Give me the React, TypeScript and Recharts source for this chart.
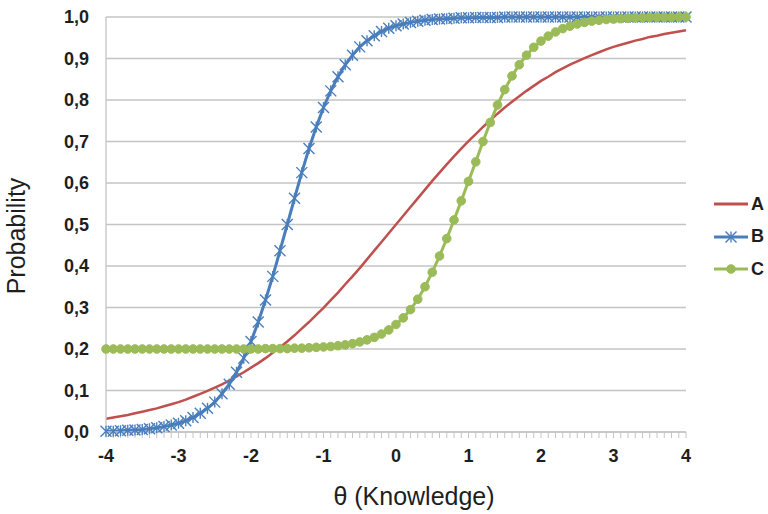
import React from 'react'
import { LineChart, Line, XAxis, YAxis, CartesianGrid, Legend, Label } from 'recharts'

// theta from -4 to 4 in steps of 0.1
const thetaValues = [
  -4, -3.9, -3.8, -3.7, -3.6, -3.5, -3.4, -3.3, -3.2, -3.1,
  -3, -2.9, -2.8, -2.7, -2.6, -2.5, -2.4, -2.3, -2.2, -2.1,
  -2, -1.9, -1.8, -1.7, -1.6, -1.5, -1.4, -1.3, -1.2, -1.1,
  -1, -0.9, -0.8, -0.7, -0.6, -0.5, -0.4, -0.3, -0.2, -0.1,
  0, 0.1, 0.2, 0.3, 0.4, 0.5, 0.6, 0.7, 0.8, 0.9,
  1, 1.1, 1.2, 1.3, 1.4, 1.5, 1.6, 1.7, 1.8, 1.9,
  2, 2.1, 2.2, 2.3, 2.4, 2.5, 2.6, 2.7, 2.8, 2.9,
  3, 3.1, 3.2, 3.3, 3.4, 3.5, 3.6, 3.7, 3.8, 3.9,
  4,
]

const itemA = [
  0.032, 0.035, 0.038, 0.041, 0.045, 0.049, 0.053, 0.057, 0.062, 0.067,
  0.072, 0.078, 0.085, 0.092, 0.099, 0.107, 0.115, 0.124, 0.134, 0.144,
  0.155, 0.166, 0.178, 0.191, 0.204, 0.218, 0.233, 0.249, 0.265, 0.282,
  0.299, 0.318, 0.336, 0.356, 0.375, 0.395, 0.416, 0.437, 0.458, 0.479,
  0.500, 0.521, 0.542, 0.563, 0.584, 0.605, 0.625, 0.645, 0.664, 0.683,
  0.701, 0.718, 0.735, 0.751, 0.767, 0.782, 0.796, 0.809, 0.822, 0.834,
  0.846, 0.856, 0.867, 0.876, 0.885, 0.893, 0.901, 0.908, 0.915, 0.922,
  0.928, 0.933, 0.938, 0.943, 0.947, 0.952, 0.955, 0.959, 0.962, 0.965,
  0.968,
]

const itemB = [
  0.002, 0.002, 0.003, 0.004, 0.005, 0.006, 0.008, 0.010, 0.013, 0.017,
  0.021, 0.027, 0.035, 0.045, 0.057, 0.072, 0.092, 0.115, 0.144, 0.178,
  0.218, 0.265, 0.318, 0.375, 0.437, 0.500, 0.563, 0.625, 0.683, 0.735,
  0.782, 0.822, 0.856, 0.885, 0.908, 0.928, 0.943, 0.955, 0.965, 0.973,
  0.979, 0.983, 0.987, 0.990, 0.992, 0.994, 0.995, 0.996, 0.997, 0.998,
  0.998, 0.999, 0.999, 0.999, 0.999, 1.000, 1.000, 1.000, 1.000, 1.000,
  1.000, 1.000, 1.000, 1.000, 1.000, 1.000, 1.000, 1.000, 1.000, 1.000,
  1.000, 1.000, 1.000, 1.000, 1.000, 1.000, 1.000, 1.000, 1.000, 1.000,
  1.000,
]

const itemC = [
  0.200, 0.200, 0.200, 0.200, 0.200, 0.200, 0.200, 0.200, 0.200, 0.200,
  0.200, 0.200, 0.200, 0.200, 0.200, 0.200, 0.200, 0.200, 0.200, 0.200,
  0.200, 0.200, 0.201, 0.201, 0.201, 0.201, 0.202, 0.202, 0.203, 0.204,
  0.205, 0.206, 0.208, 0.210, 0.213, 0.217, 0.222, 0.228, 0.236, 0.246,
  0.259, 0.275, 0.295, 0.320, 0.350, 0.385, 0.424, 0.466, 0.511, 0.557,
  0.604, 0.651, 0.700, 0.746, 0.788, 0.825, 0.858, 0.885, 0.908, 0.927,
  0.942, 0.954, 0.964, 0.972, 0.978, 0.983, 0.987, 0.990, 0.992, 0.994,
  0.995, 0.996, 0.997, 0.998, 0.998, 0.999, 0.999, 0.999, 0.999, 1.000,
  1.000,
]

const yTicks = [0, 0.1, 0.2, 0.3, 0.4, 0.5, 0.6, 0.7, 0.8, 0.9, 1]

const FONT = '"Liberation Sans", Arial, sans-serif'
const RED = '#c0504d'
const BLUE = '#4a7ebb'
const GREEN = '#9bbb59'
const GRID = '#c4c4c4'

const data = thetaValues.map((t, i) => ({ theta: t, A: itemA[i], B: itemB[i], C: itemC[i] }))

// Excel style "star" marker: x plus a vertical bar
function StarDot(props: any) {
  const { cx, cy } = props
  if (cx == null || cy == null) return null
  const s = 5.5
  return (
    <g stroke={BLUE} strokeWidth={1.4} fill="none">
      <line x1={cx - s} y1={cy - s} x2={cx + s} y2={cy + s} />
      <line x1={cx - s} y1={cy + s} x2={cx + s} y2={cy - s} />
      <line x1={cx} y1={cy - s} x2={cx} y2={cy + s} />
    </g>
  )
}

function CircleDot(props: any) {
  const { cx, cy } = props
  if (cx == null || cy == null) return null
  return <circle cx={cx} cy={cy} r={4.3} fill={GREEN} stroke={GREEN} strokeWidth={1} />
}

function ThetaTick(props: any) {
  const { x, y, payload } = props
  const v = payload.value
  if (!Number.isInteger(v)) return null
  return (
    <text x={x} y={y} dy={22} textAnchor="middle" fontFamily={FONT} fontSize={18} fontWeight="bold" fill="#1e1e1e">
      {String(v)}
    </text>
  )
}

function LegendBox(props: any) {
  const items = props.payload || []
  return (
    <div style={{ fontFamily: FONT }}>
      {items.map((it: any) => {
        const key = it.value
        return (
          <div key={key} style={{ height: 32.5, display: 'flex', alignItems: 'center' }}>
            <svg width={36} height={14}>
              <line x1={1} y1={7} x2={35} y2={7} stroke={it.color} strokeWidth={3} />
              {key === 'B' && <StarDot cx={18} cy={7} />}
              {key === 'C' && <CircleDot cx={18} cy={7} />}
            </svg>
            <span style={{ fontSize: 18, fontWeight: 'bold', color: '#1e1e1e', marginLeft: 2 }}>{key}</span>
          </div>
        )
      })}
    </div>
  )
}

export default function App() {
  return (
    <div style={{ position: 'absolute', left: 0, top: 0, width: 768, height: 514, background: '#fff' }}>
      <LineChart width={768} height={514} data={data} margin={{ top: 17, right: 82, bottom: 0, left: 0 }}>
        <CartesianGrid horizontal vertical={false} stroke={GRID} strokeWidth={1.3} />
        <XAxis
          dataKey="theta"
          type="category"
          interval={0}
          height={82}
          tick={<ThetaTick />}
          tickSize={6}
          tickMargin={2}
          tickLine={{ stroke: GRID }}
          axisLine={{ stroke: GRID, strokeWidth: 1.3 }}
        >
          <Label
            content={() => (
              <text x={414} y={505} textAnchor="middle" fontFamily={FONT} fontSize={25} fill="#1e1e1e">
                θ (Knowledge)
              </text>
            )}
          />
        </XAxis>
        <YAxis
          type="number"
          domain={[0, 1]}
          ticks={yTicks}
          width={106}
          tickSize={0}
          tickMargin={17}
          tickLine={false}
          axisLine={{ stroke: GRID, strokeWidth: 1.3 }}
          tickFormatter={(v: number) => v.toFixed(1).replace('.', ',')}
          tick={{ fontFamily: FONT, fontSize: 18, fontWeight: 'bold', fill: '#1e1e1e' }}
        >
          <Label
            content={() => (
              <text x={25} y={236} transform="rotate(-90 25 236)" textAnchor="middle" fontFamily={FONT} fontSize={25} fill="#1e1e1e">
                Probability
              </text>
            )}
          />
        </YAxis>
        <Legend
          layout="vertical"
          align="center"
          verticalAlign="middle"
          content={<LegendBox />}
          wrapperStyle={{ left: 713, top: 188, width: 60 }}
        />
        <Line dataKey="A" name="A" stroke={RED} strokeWidth={2.5} dot={false} isAnimationActive={false} />
        <Line dataKey="B" name="B" stroke={BLUE} strokeWidth={3} dot={<StarDot />} isAnimationActive={false} />
        <Line dataKey="C" name="C" stroke={GREEN} strokeWidth={3} dot={<CircleDot />} isAnimationActive={false} />
      </LineChart>
    </div>
  )
}
